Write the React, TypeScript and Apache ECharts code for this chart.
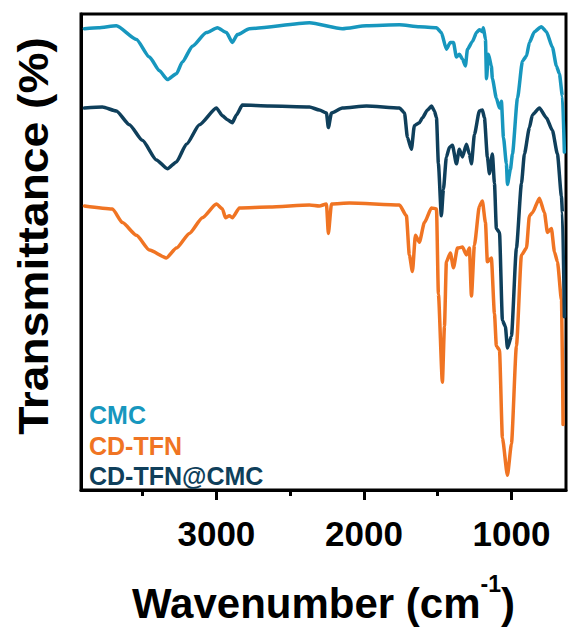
import React, { useEffect, useRef } from "react";
import * as echarts from "echarts";

// FTIR spectra, offset vertically (transmittance in arbitrary units)
const cmcWavenumber = [3895, 3800, 3678, 3542, 3454, 3386, 3332, 3271, 3231, 3163, 3068, 2993, 2932, 2892, 2858, 2776, 2369, 2146, 1983, 1759, 1624, 1508, 1475, 1441, 1414, 1393, 1373, 1353, 1332, 1312, 1298, 1264, 1237, 1217, 1197, 1190, 1176, 1169, 1156, 1136, 1129, 1102, 1081, 1068, 1054, 1034, 1027, 1007, 993, 959, 925, 898, 878, 844, 797, 763, 722, 695, 675, 654, 641];
const cmcTransmittance = [471, 472, 474, 460, 442, 428, 419, 425, 437, 453, 467, 472, 467, 457, 465, 471, 477, 471, 474, 475, 473, 472, 467, 450, 457, 457, 442, 445, 440, 433, 450, 458, 467, 470, 468, 472, 460, 420, 445, 433, 420, 400, 390, 397, 360, 333, 312, 327, 343, 400, 438, 443, 457, 468, 473, 468, 452, 433, 425, 402, 345];

const tfnWavenumber = [3895, 3705, 3637, 3542, 3454, 3339, 3271, 3183, 3095, 3000, 2959, 2939, 2912, 2892, 2844, 2641, 2369, 2302, 2254, 2241, 2220, 2098, 1759, 1712, 1692, 1671, 1651, 1624, 1590, 1542, 1508, 1495, 1468, 1454, 1441, 1414, 1393, 1366, 1332, 1305, 1285, 1271, 1251, 1217, 1197, 1176, 1163, 1136, 1115, 1102, 1081, 1061, 1027, 1000, 966, 932, 898, 878, 858, 810, 776, 756, 729, 708, 688, 660, 650];
const tfnTransmittance = [290, 287, 273, 260, 245, 237, 247, 262, 278, 292, 287, 278, 280, 278, 288, 289, 291, 290, 292, 262, 292, 293, 291, 280, 240, 223, 260, 253, 273, 288, 287, 200, 110, 167, 233, 242, 227, 247, 248, 240, 247, 198, 250, 290, 295, 273, 233, 237, 180, 147, 143, 53, 15, 47, 147, 240, 247, 280, 283, 298, 283, 263, 267, 243, 233, 193, 67];

const compositeWavenumber = [3895, 3773, 3678, 3590, 3502, 3407, 3332, 3271, 3203, 3115, 3000, 2959, 2925, 2892, 2864, 2824, 2641, 2369, 2302, 2254, 2241, 2220, 2146, 1983, 1759, 1725, 1705, 1678, 1658, 1624, 1603, 1569, 1542, 1522, 1508, 1495, 1475, 1461, 1441, 1420, 1400, 1373, 1353, 1332, 1305, 1285, 1271, 1251, 1217, 1197, 1183, 1163, 1149, 1129, 1115, 1102, 1081, 1061, 1041, 1027, 1000, 966, 932, 912, 878, 858, 810, 763, 722, 688, 661, 654, 641];
const compositeTransmittance = [390, 391, 387, 373, 357, 337, 328, 335, 353, 373, 390, 382, 378, 375, 383, 393, 392, 391, 388, 385, 370, 385, 390, 392, 390, 385, 360, 348, 372, 375, 380, 388, 392, 387, 380, 333, 280, 307, 340, 350, 352, 333, 348, 340, 353, 343, 333, 363, 387, 388, 380, 340, 323, 343, 313, 267, 263, 173, 167, 145, 157, 247, 313, 343, 370, 383, 390, 380, 367, 343, 300, 283, 177];

const seriesNames = ["CMC", "CD-TFN", "CD-TFN@CMC"];
const seriesColors = ["#1797BE", "#F07423", "#0F3F5B"];

const majorTicks = [1000, 2000, 3000];
const minorTicks = [1500, 2500, 3500];

const FONT = 'Arial, "Liberation Sans", sans-serif';

const zip = (xs: number[], ys: number[]) => xs.map((x, i) => [x, ys[i]]);

export default function App() {
  const ref = useRef<HTMLDivElement>(null);

  useEffect(() => {
    if (!ref.current) return;
    const chart = echarts.init(ref.current, undefined, { renderer: "svg" });
    const spectra = [
      zip(cmcWavenumber, cmcTransmittance),
      zip(tfnWavenumber, tfnTransmittance),
      zip(compositeWavenumber, compositeTransmittance),
    ];
    const xRange = { min: 630, max: 3918, inverse: true };

    // series names stacked in the lower-left corner, each in its line colour
    const nameLabels = seriesNames.map((n, i) => ({
      type: "text",
      x: 89,
      y: 415 + i * 30.5,
      silent: true,
      style: {
        text: n,
        fontSize: 25,
        fontWeight: "bold",
        fontFamily: FONT,
        fill: seriesColors[i],
        align: "left",
        verticalAlign: "middle",
      },
    }));

    chart.setOption({
      animation: false,
      backgroundColor: "#fff",
      grid: {
        left: 81,
        right: 2,
        top: 14,
        bottom: 129,
        show: true,
        borderColor: "#000",
        borderWidth: 3,
        backgroundColor: "transparent",
      },
      xAxis: [
        {
          type: "value",
          ...xRange,
          position: "bottom",
          axisLine: { show: true, lineStyle: { color: "#000", width: 3 } },
          axisTick: { show: true, customValues: majorTicks, length: 10, lineStyle: { color: "#000", width: 3 } },
          axisLabel: {
            customValues: majorTicks,
            formatter: (v: number) => String(v),
            fontSize: 35,
            fontWeight: "bold",
            fontFamily: FONT,
            color: "#000",
            margin: 26,
          },
          splitLine: { show: false },
          name: "{a|Wavenumber (cm}{s|-1}{a|)}",
          nameLocation: "middle",
          nameGap: 82,
          nameTextStyle: {
            rich: {
              a: { fontSize: 42, fontWeight: "bold", fontFamily: FONT, color: "#000", lineHeight: 62 },
              s: { fontSize: 23, fontWeight: "bold", fontFamily: FONT, color: "#000", verticalAlign: "top", lineHeight: 23 },
            },
          },
        },
        {
          type: "value",
          ...xRange,
          position: "bottom",
          axisLine: { show: false },
          axisTick: { show: true, customValues: minorTicks, length: 6, lineStyle: { color: "#000", width: 3 } },
          axisLabel: { show: false },
          splitLine: { show: false },
        },
      ],
      yAxis: {
        type: "value",
        min: 0,
        max: 486,
        axisLine: { show: true, lineStyle: { color: "#000", width: 3 } },
        axisTick: { show: false },
        axisLabel: { show: false },
        splitLine: { show: false },
      },
      graphic: [
        {
          type: "text",
          x: 33,
          y: 236,
          rotation: Math.PI / 2,
          scaleX: 1.1,
          silent: true,
          style: {
            text: "Transmittance (%)",
            fontSize: 42,
            fontWeight: "bold",
            fontFamily: FONT,
            fill: "#000",
            align: "center",
            verticalAlign: "middle",
          },
        },
        ...nameLabels,
      ],
      series: spectra.map((data, i) => ({
        name: seriesNames[i],
        type: "line",
        data,
        xAxisIndex: 0,
        showSymbol: false,
        silent: true,
        smooth: 0.2,
        smoothMonotone: "x",
        color: seriesColors[i],
        lineStyle: { width: 3.5, color: seriesColors[i], join: "round", cap: "round" },
      })),
    });

    return () => chart.dispose();
  }, []);

  return <div ref={ref} style={{ width: 568, height: 629, position: "absolute", left: 0, top: 0 }} />;
}
